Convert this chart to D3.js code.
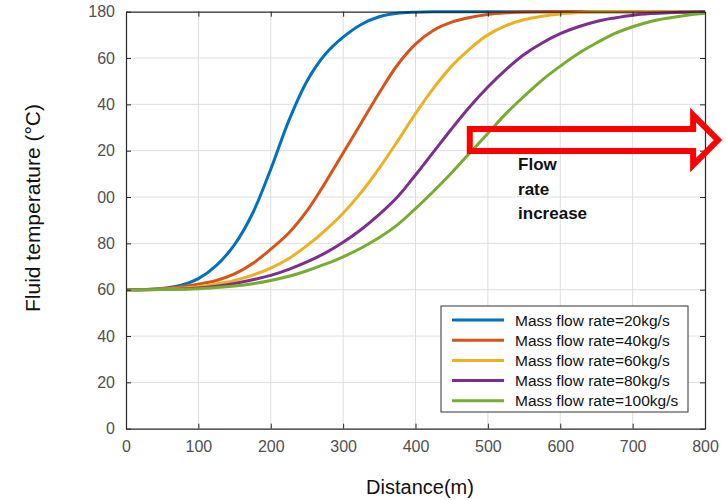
<!DOCTYPE html>
<html>
<head>
<meta charset="utf-8">
<script src="https://cdn.jsdelivr.net/npm/d3@7"></script>
<style>
  html, body { margin: 0; padding: 0; background: #fff; }
  svg { display: block; font-family: "Liberation Sans", Arial, sans-serif; }
</style>
</head>
<body>
<svg id="chart" width="726" height="500"></svg>
<script>
// Distance along the pipe (m), sampled every 25 m
const distance = d3.range(0, 801, 25);

// Fluid temperature (°C) for each mass flow rate
const temp20 = [60, 60.1, 60.5, 61.8, 64.8, 70.5, 79.5, 93, 112, 133, 150, 161.5, 169, 174.5, 177.8, 179.3, 179.8,
  180, 180, 180, 180, 180, 180, 180, 180, 180, 180, 180, 180, 180, 180, 180, 180];
const temp40 = [60, 60.1, 60.4, 61.2, 62.4, 64, 66.8, 71.3, 77.5, 84.5, 94, 106, 119, 132, 145, 157, 166,
  172, 175.5, 177.5, 178.8, 179.5, 179.9, 180, 180, 180, 180, 180, 180, 180, 180, 180, 180];
const temp60 = [60, 60, 60.2, 60.6, 61.3, 62.5, 64, 66.3, 69.3, 73.5, 79, 85.5, 93, 102, 112.5, 124, 136,
  147, 156.5, 164, 170, 174, 176.5, 178, 179, 179.6, 180, 180, 180, 180, 180, 180, 180];
const temp80 = [60, 60, 60.1, 60.3, 60.7, 61.5, 62.7, 64.3, 66.2, 68.8, 72, 75.8, 80.5, 86, 92.5, 100, 109.5,
  119.5, 129.5, 139, 147.5, 155, 161.5, 166.5, 170.5, 173.5, 175.8, 177.3, 178.5, 179.2, 179.6, 179.8, 180];
const temp100 = [60, 60, 60.1, 60.2, 60.4, 60.9, 61.6, 62.6, 64, 65.8, 68.2, 71, 74.2, 78, 82.5, 88, 95,
  102.5, 110.5, 119, 127.5, 136, 143.5, 150.5, 156.5, 162, 166.5, 170.5, 173.5, 175.8, 177.3, 178.5, 179.3];

const seriesNames = ["Mass flow rate=20kg/s", "Mass flow rate=40kg/s", "Mass flow rate=60kg/s",
  "Mass flow rate=80kg/s", "Mass flow rate=100kg/s"];
const seriesValues = [temp20, temp40, temp60, temp80, temp100];
const seriesColors = ["#0072BD", "#D95319", "#EDB120", "#7E2F8E", "#77AC30"];

// Axis ticks and their printed labels
const xTicks = [0, 100, 200, 300, 400, 500, 600, 700, 800];
const yTicks = [0, 20, 40, 60, 80, 100, 120, 140, 160, 180];
const yTickLabels = ["0", "20", "40", "60", "80", "00", "20", "40", "60", "180"];

// Annotation arrow outline in data units (distance, temperature)
const arrowShape = [[475, 129.4], [783.6, 129.4], [783.6, 135.4], [818, 124.6], [783.6, 113.8],
  [783.6, 119.9], [475, 119.9]];
const noteLines = ["Flow", "rate", "increase"];

const svg = d3.select("#chart");
const plotL = 126, plotR = 705, plotT = 11.7, plotB = 428.7;

const x = d3.scaleLinear().domain([0, 800]).range([plotL, plotR]);
const y = d3.scaleLinear().domain([0, 180]).range([plotB, plotT]);

// grid
const grid = svg.append("g");
grid.selectAll(".gx").data(xTicks.slice(1, -1)).join("line")
  .attr("x1", d => x(d)).attr("x2", d => x(d))
  .attr("y1", plotT).attr("y2", plotB)
  .attr("stroke", "#dedede").attr("stroke-width", 1);
grid.selectAll(".gy").data(yTicks.slice(1, -1)).join("line")
  .attr("x1", plotL).attr("x2", plotR)
  .attr("y1", d => y(d)).attr("y2", d => y(d))
  .attr("stroke", "#dedede").attr("stroke-width", 1);

// curves
const line = d3.line()
  .x((d, i) => x(distance[i]))
  .y(d => y(d))
  .curve(d3.curveCatmullRom.alpha(0.5));

svg.append("g").selectAll("path").data(seriesValues).join("path")
  .attr("d", d => line(d))
  .attr("fill", "none")
  .attr("stroke", (d, i) => seriesColors[i])
  .attr("stroke-width", 3)
  .attr("stroke-linejoin", "round");

// axes: inward ticks on all four sides
const axisColor = "#262626";
function styleAxis(g) {
  g.select(".domain").attr("stroke", axisColor).attr("stroke-width", 1.2);
  g.selectAll(".tick line").attr("stroke", axisColor);
  g.selectAll(".tick text").attr("fill", "#505050").attr("font-size", "16px")
    .attr("font-family", "Liberation Sans, Arial, sans-serif");
}

svg.append("g").attr("transform", `translate(0,${plotB})`)
  .call(d3.axisBottom(x).tickValues(xTicks).tickSizeInner(-5).tickSizeOuter(0).tickPadding(12))
  .call(styleAxis);
svg.append("g").attr("transform", `translate(0,${plotT})`)
  .call(d3.axisTop(x).tickValues(xTicks).tickSizeInner(-5).tickSizeOuter(0).tickFormat(""))
  .call(styleAxis);
svg.append("g").attr("transform", `translate(${plotL},0)`)
  .call(d3.axisLeft(y).tickValues(yTicks).tickSizeInner(-5).tickSizeOuter(0).tickPadding(11)
    .tickFormat((d, i) => yTickLabels[i]))
  .call(styleAxis);
svg.append("g").attr("transform", `translate(${plotR},0)`)
  .call(d3.axisRight(y).tickValues(yTicks).tickSizeInner(-5).tickSizeOuter(0).tickFormat(""))
  .call(styleAxis);

// axis titles
svg.append("text")
  .attr("x", 420).attr("y", 494)
  .attr("text-anchor", "middle")
  .attr("font-size", "20px").attr("fill", "#111")
  .text("Distance(m)");
svg.append("text")
  .attr("transform", "translate(40,208) rotate(-90)")
  .attr("text-anchor", "middle")
  .attr("font-size", "21px").attr("fill", "#111")
  .text("Fluid temperature (°C)");

// legend
const lg = svg.append("g");
const lgX = 441, lgY = 306, lgW = 247, lgH = 106, rowH = 20.2;
lg.append("rect").attr("x", lgX).attr("y", lgY).attr("width", lgW).attr("height", lgH)
  .attr("fill", "#fff").attr("stroke", "#333").attr("stroke-width", 1);
const rows = lg.selectAll(".row").data(seriesNames).join("g")
  .attr("transform", (d, i) => `translate(${lgX},${lgY + 14 + i * rowH})`);
rows.append("line").attr("x1", 11).attr("x2", 63).attr("y1", 0).attr("y2", 0)
  .attr("stroke", (d, i) => seriesColors[i]).attr("stroke-width", 3);
rows.append("text").attr("x", 74).attr("y", 5.5)
  .attr("font-size", "15.5px").attr("fill", "#111")
  .text(d => d);

// annotation arrow and note
svg.append("path")
  .attr("d", d3.line().x(d => x(d[0])).y(d => y(d[1]))(arrowShape) + "Z")
  .attr("fill", "none").attr("stroke", "#ff0000").attr("stroke-width", 6)
  .attr("stroke-linejoin", "miter").attr("stroke-miterlimit", 10);

svg.append("g").selectAll("text").data(noteLines).join("text")
  .attr("x", x(541.7)).attr("y", (d, i) => 170 + i * 24.5)
  .attr("font-size", "17px").attr("font-weight", "bold").attr("fill", "#111")
  .text(d => d);
</script>
</body>
</html>
